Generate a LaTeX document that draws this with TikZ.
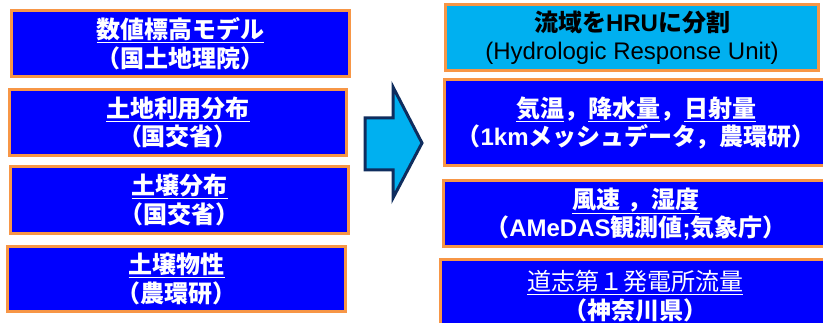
\documentclass[tikz,border=0pt]{standalone}
\usepackage{fontspec}
\setmainfont{Liberation Sans}
\newfontfamily\jp{Noto Sans CJK JP}
\newfontfamily\lat{Liberation Sans}
\definecolor{srcblue}{HTML}{0000FF}
\definecolor{edgeorange}{HTML}{F79646}
\definecolor{hrublue}{HTML}{00B0F0}
\definecolor{arrownavy}{HTML}{0F2D5E}
\tikzset{
  databox/.style={draw=edgeorange, line width=3pt, fill=srcblue, text=white,
    font=\jp\bfseries\fontsize{24}{28.5}\selectfont, align=center, inner sep=0pt},
  hrubox/.style={databox, fill=hrublue, text=black},
  bigarrow/.style={draw=arrownavy, line width=3pt, fill=hrublue, line join=miter}
}
\begin{document}
\begin{tikzpicture}[x=1pt,y=-1pt]
\useasboundingbox (0,0) rectangle (823,323);
\begin{scope}
\clip (0,0) rectangle (823,323);
% left column
\node[databox, minimum width=338pt, minimum height=66pt] (l1) at (180.5,43.5)
  {\underline{数値標高モデル}\\（国土地理院）};
\node[databox, minimum width=337pt, minimum height=66pt] (l2) at (178,122.5)
  {\underline{土地利用分布}\\（国交省）};
\node[databox, minimum width=338pt, minimum height=67pt] (l3) at (179.5,200)
  {\underline{土壌分布}\\（国交省）};
\node[databox, minimum width=338pt, minimum height=65pt] (l4) at (176.5,279)
  {\underline{土壌物性}\\（農環研）};
% arrow
\path[bigarrow] (365,118) -- (393,118) -- (393,87) -- (422,143) -- (393,198) -- (393,170) -- (365,170) -- cycle;
% right column
\node[hrubox, minimum width=373pt, minimum height=66pt] (r1) at (632,37.5)
  {流域を{\lat HRU}に分割\\{\lat\mdseries (Hydrologic Response Unit)}};
\node[databox, minimum width=384pt, minimum height=86pt] (r2) at (636,123)
  {\underline{気温}，\underline{降水量}，\underline{日射量}\\（{\lat 1km}メッシュデータ，農環研）};
\node[databox, minimum width=385pt, minimum height=66pt] (r3) at (636,214)
  {\underline{風速\hspace{0.3em}，湿度}\\（{\lat AMeDAS}観測値{\lat ;}気象庁）};
\node[databox, minimum width=390pt, minimum height=72pt] (r4) at (635,296)
  {{\mdseries\underline{道志第１発電所流量}}\\（神奈川県）};
\end{scope}
\end{tikzpicture}
\end{document}
